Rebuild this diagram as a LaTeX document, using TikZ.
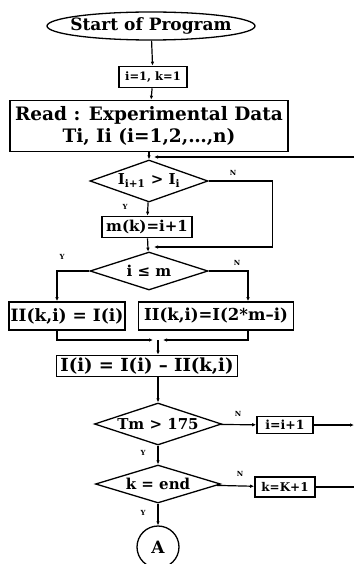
\documentclass[tikz,border=0pt]{standalone}
\usepackage{fontspec}
\setmainfont{DejaVu Serif}
\usetikzlibrary{positioning,arrows.meta,shapes.geometric}

\begin{document}
\begin{tikzpicture}[x=1pt, y=-1pt,
    terminal/.style={ellipse, draw, line width=1.3pt, inner xsep=-12pt, inner ysep=0pt},
    proc/.style={draw, line width=1.6pt, inner xsep=1pt, inner ysep=0pt, align=center},
    decision/.style={diamond, draw, line width=1.3pt, aspect=3, inner sep=0pt,
      font=\fontsize{15}{17}\selectfont\bfseries},
    conn/.style={circle, draw, line width=1.3pt, inner sep=0pt, minimum size=42pt,
      font=\fontsize{17}{19}\selectfont\bfseries},
    yn/.style={font=\fontsize{7}{8}\selectfont\bfseries, inner sep=0pt},
    arrow/.style={-{Latex[length=4pt,width=3.5pt]}, line width=1.2pt},
    line/.style={line width=1.2pt}
  ]
    \useasboundingbox (0,0) rectangle (354,564);

    \node[terminal, minimum width=208pt, minimum height=28pt,
      font=\fontsize{17}{19}\selectfont\bfseries] (start) at (151,26) {Start of Program};
    \node[proc, minimum width=68pt, minimum height=21pt,
      font=\fontsize{11.5}{13}\selectfont\bfseries] (init) at (153,77) {i=1, k=1};
    \node[proc, minimum width=278pt, minimum height=51pt,
      font=\fontsize{18.5}{22}\selectfont\bfseries] (read) at (149,126)
      {Read : Experimental Data\\Ti, Ii (i=1,2,\ldots,n)};
    \node[decision, minimum width=118pt, minimum height=42pt] (cmpI) at (149,181)
      {I\textsubscript{i+1} > I\textsubscript{i}};
    \node[proc, minimum width=90pt, minimum height=21pt,
      font=\fontsize{15}{17}\selectfont\bfseries] (setM) at (147,227) {m(k)=i+1};
    \node[decision, minimum width=118pt, minimum height=38pt] (cmpM) at (149,271)
      {i ≤ m};
    \node[proc, minimum width=116pt, minimum height=28pt,
      font=\fontsize{17}{19}\selectfont\bfseries] (leftII) at (67,316) {II(k,i) = I(i)};
    \node[proc, minimum width=155pt, minimum height=28pt,
      font=\fontsize{16.5}{18}\selectfont\bfseries] (rightII) at (216,316) {II(k,i)=I(2*m--i)};
    \node[proc, minimum width=181pt, minimum height=21pt,
      font=\fontsize{18}{20}\selectfont\bfseries] (subI) at (147,366) {I(i) = I(i) -- II(k,i)};
    \node[decision, minimum width=127pt, minimum height=42pt] (cmpT) at (158,424)
      {Tm > 175};
    \node[proc, minimum width=56pt, minimum height=17pt,
      font=\fontsize{12.5}{14}\selectfont\bfseries] (incI) at (285,425) {i=i+1};
    \node[decision, minimum width=125pt, minimum height=38pt] (cmpK) at (158,484)
      {k = end};
    \node[proc, minimum width=60pt, minimum height=20pt,
      font=\fontsize{12}{14}\selectfont\bfseries] (incK) at (285,487) {k=K+1};
    \node[conn] (conA) at (158,547) {A};

    \coordinate (backIn) at (354,157);
    \coordinate (loopIn) at (149,157);
    \coordinate (skipIn) at (149,247);
    \coordinate (mergeIn) at (158,340);
    \coordinate (outI) at (354,425);
    \coordinate (outK) at (354,487);

    \draw[arrow] (start) -- (init);
    \draw[arrow] (init) -- (read);
    \draw[arrow] (read) -- (cmpI);
    \draw[arrow] (backIn) -- ([xshift=5pt]loopIn);
    \draw[arrow] (cmpI) -- (setM);
    \draw[arrow] (cmpI.east) -- ++(64,0) |- ([xshift=5pt]skipIn);
    \draw[arrow] (setM) -- (cmpM);
    \draw[arrow] (cmpM.west) -| ([xshift=-10pt]leftII.north);
    \draw[arrow] (cmpM.east) -| ([xshift=32pt]rightII.north);
    \draw[arrow] ([xshift=-10pt]leftII.south) |- ([xshift=-5pt]mergeIn);
    \draw[arrow] ([xshift=32pt]rightII.south) |- ([xshift=5pt]mergeIn);
    \draw[arrow] (mergeIn) -- (mergeIn |- subI.north);
    \draw[arrow] (subI.south -| cmpT) -- (cmpT);
    \draw[arrow] (cmpT) -- (incI);
    \draw[arrow] (incI) -- (outI);
    \draw[arrow] (cmpT) -- (cmpK);
    \draw[arrow] (cmpK) -- (incK);
    \draw[line] (incK) -- (outK);
    \draw[arrow] (cmpK) -- (conA);

    \node[yn] (y1) at (125,207) {Y};
    \node[yn] (n1) at (233,173) {N};
    \node[yn] (y2) at (62,257) {Y};
    \node[yn] (n2) at (237,263) {N};
    \node[yn] (n3) at (238,414) {N};
    \node[yn] (y3) at (143,453) {Y};
    \node[yn] (n4) at (240,474) {N};
    \node[yn] (y4) at (143,513) {Y};
  \end{tikzpicture}
\end{document}
